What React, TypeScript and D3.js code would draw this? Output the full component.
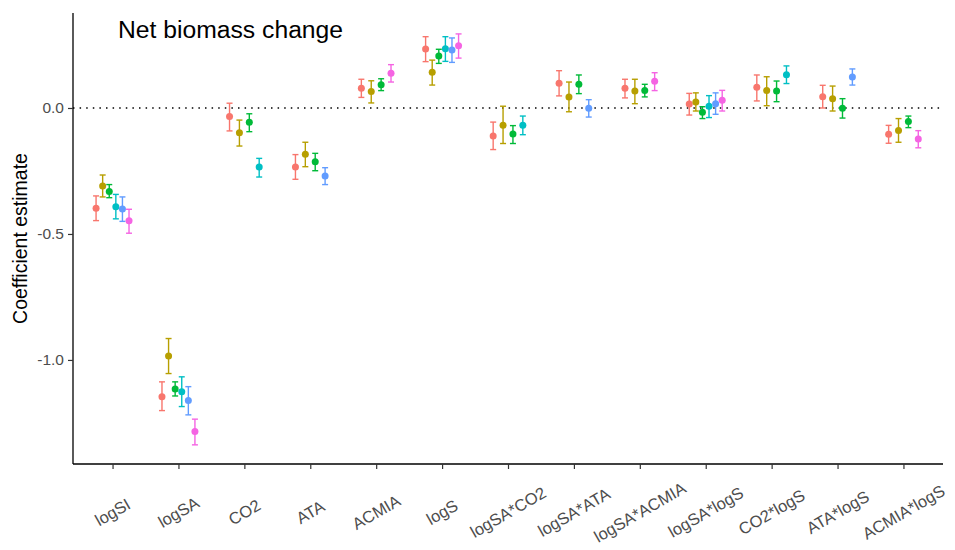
import React, { useEffect, useRef } from "react";
import * as d3 from "d3";

// Terms on the x axis
const categories = [
  "logSI", "logSA", "CO2", "ATA", "ACMIA", "logS", "logSA*CO2",
  "logSA*ATA", "logSA*ACMIA", "logSA*logS", "CO2*logS", "ATA*logS", "ACMIA*logS",
];

// ggplot default hue palette for 6 models
const seriesColors = ["#F8766D", "#B79F00", "#00BA38", "#00BFC4", "#619CFF", "#F564E3"];

// [estimate, lower, upper] per category, null = term not in model
type Est = [number, number, number] | null;

const series1: Est[] = [
  [-0.398, -0.447, -0.349], [-1.146, -1.201, -1.087], [-0.034, -0.091, 0.019],
  [-0.234, -0.283, -0.185], [0.078, 0.042, 0.114], [0.234, 0.184, 0.283],
  [-0.111, -0.165, -0.056], [0.098, 0.048, 0.148], [0.078, 0.04, 0.114],
  [0.016, -0.028, 0.058], [0.082, 0.028, 0.131], [0.045, 0.0, 0.09],
  [-0.104, -0.14, -0.069],
];
const series2: Est[] = [
  [-0.31, -0.353, -0.266], [-0.984, -1.054, -0.915], [-0.098, -0.151, -0.048],
  [-0.184, -0.233, -0.136], [0.065, 0.02, 0.108], [0.142, 0.091, 0.19],
  [-0.069, -0.141, 0.007], [0.044, -0.015, 0.103], [0.067, 0.017, 0.114],
  [0.024, -0.012, 0.06], [0.069, 0.009, 0.124], [0.037, -0.012, 0.087],
  [-0.089, -0.136, -0.042],
];
const series3: Est[] = [
  [-0.331, -0.356, -0.304], [-1.115, -1.143, -1.087], [-0.057, -0.094, -0.023],
  [-0.213, -0.249, -0.18], [0.092, 0.069, 0.116], [0.206, 0.177, 0.233],
  [-0.103, -0.141, -0.07], [0.094, 0.057, 0.131], [0.069, 0.044, 0.094],
  [-0.017, -0.042, 0.005], [0.067, 0.025, 0.107], [-0.001, -0.04, 0.037],
  [-0.054, -0.078, -0.032],
];
const series4: Est[] = [
  [-0.392, -0.44, -0.343], [-1.126, -1.185, -1.067], [-0.234, -0.274, -0.2],
  null, null, [0.235, 0.185, 0.283],
  [-0.069, -0.106, -0.032], null, null,
  [0.007, -0.038, 0.049], [0.132, 0.097, 0.167], null,
  null,
];
const series5: Est[] = [
  [-0.401, -0.45, -0.353], [-1.161, -1.218, -1.106], null,
  [-0.27, -0.304, -0.237], null, [0.23, 0.181, 0.278],
  null, [-0.001, -0.036, 0.033], null,
  [0.017, -0.025, 0.06], null, [0.123, 0.091, 0.155],
  null,
];
const series6: Est[] = [
  [-0.448, -0.497, -0.402], [-1.284, -1.337, -1.235], null,
  null, [0.138, 0.103, 0.172], [0.247, 0.198, 0.294],
  null, null, [0.106, 0.069, 0.14],
  [0.031, -0.012, 0.07], null, null,
  [-0.123, -0.158, -0.09],
];

const allSeries = [series1, series2, series3, series4, series5, series6];
const yTicks = [-1.0, -0.5, 0.0];
const yDomain: [number, number] = [-1.413, 0.377];

const FONT = "'Liberation Sans', Arial, sans-serif";

export default function App() {
  const svgRef = useRef<SVGSVGElement | null>(null);

  useEffect(() => {
    const width = 955;
    const height = 550;
    const panel = { left: 73, right: 943, top: 13, bottom: 464 };

    d3.select(svgRef.current).selectAll("*").remove();
    const svg = d3.select(svgRef.current).attr("width", width).attr("height", height);

    const x = d3.scalePoint<string>().domain(categories).range([panel.left, panel.right]).padding(0.6);
    const y = d3.scaleLinear().domain(yDomain).range([panel.bottom, panel.top]);
    const dodgeWidth = x.step() * 0.6;

    // zero reference line
    svg.append("line")
      .attr("x1", panel.left).attr("x2", panel.right)
      .attr("y1", y(0)).attr("y2", y(0))
      .attr("stroke", "#000").attr("stroke-width", 1.5)
      .attr("stroke-dasharray", "1.5 5.1");

    // points + error bars, dodged among the models present for each term
    categories.forEach((cat, ci) => {
      const present = allSeries
        .map((s, si) => ({ si, v: s[ci] }))
        .filter((d) => d.v !== null);
      const n = present.length;
      present.forEach((d, k) => {
        const [est, lo, hi] = d.v as [number, number, number];
        const cx = (x(cat) as number) + (k - (n - 1) / 2) * (dodgeWidth / n);
        const col = seriesColors[d.si];
        const g = svg.append("g").attr("stroke", col).attr("stroke-width", 1.4);
        g.append("line").attr("x1", cx).attr("x2", cx).attr("y1", y(lo)).attr("y2", y(hi));
        g.append("line").attr("x1", cx - 3).attr("x2", cx + 3).attr("y1", y(lo)).attr("y2", y(lo));
        g.append("line").attr("x1", cx - 3).attr("x2", cx + 3).attr("y1", y(hi)).attr("y2", y(hi));
        svg.append("circle").attr("cx", cx).attr("cy", y(est)).attr("r", 3.5).attr("fill", col);
      });
    });

    // Y axis
    const yAxis = svg.append("g")
      .attr("transform", `translate(${panel.left},0)`)
      .call(d3.axisLeft(y).tickValues(yTicks).tickFormat(d3.format(".1f")).tickSize(5).tickPadding(4));
    yAxis.select(".domain").attr("d", `M0,${panel.top}V${panel.bottom}`).attr("stroke", "#000").attr("stroke-width", 1.3);
    yAxis.selectAll(".tick line").attr("stroke", "#333").attr("stroke-width", 1.2);
    yAxis.selectAll(".tick text")
      .attr("font-family", FONT).attr("font-size", 15.5).attr("fill", "#4D4D4D")
      .text((d: any) => d3.format(".1f")(d).replace("−", "-"));

    // X axis
    const xAxis = svg.append("g")
      .attr("transform", `translate(0,${panel.bottom})`)
      .call(d3.axisBottom(x).tickSize(5).tickFormat(() => ""));
    xAxis.select(".domain").attr("d", `M${panel.left},0H${panel.right}`).attr("stroke", "#000").attr("stroke-width", 1.3);
    xAxis.selectAll(".tick line").attr("stroke", "#333").attr("stroke-width", 1.2);

    // rotated x labels
    categories.forEach((cat) => {
      const tx = x(cat) as number;
      svg.append("text")
        .attr("transform", `translate(${tx},512) rotate(-30)`)
        .attr("text-anchor", "middle")
        .attr("dominant-baseline", "central")
        .attr("font-family", FONT).attr("font-size", 16.5).attr("fill", "#4D4D4D")
        .text(cat);
    });

    // axis title
    svg.append("text")
      .attr("transform", `translate(27,${(panel.top + panel.bottom) / 2}) rotate(-90)`)
      .attr("text-anchor", "middle")
      .attr("font-family", FONT).attr("font-size", 19.5).attr("fill", "#000")
      .text("Coefficient estimate");

    // panel title annotation
    svg.append("text")
      .attr("x", 118).attr("y", 38)
      .attr("font-family", FONT).attr("font-size", 24.7).attr("fill", "#000")
      .text("Net biomass change");
  }, []);

  return (
    <svg ref={svgRef} style={{ position: "absolute", left: 0, top: 0 }}></svg>
  );
}
